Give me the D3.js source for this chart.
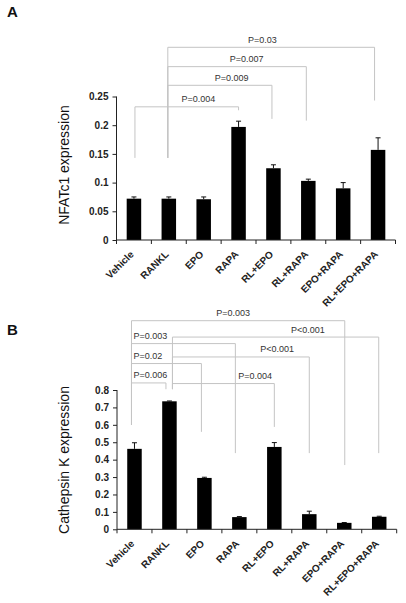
<!DOCTYPE html>
<html><head><meta charset="utf-8">
<script src="https://cdn.jsdelivr.net/npm/d3@7"></script>
<style>
html,body{margin:0;padding:0;background:#fff;}
svg{display:block;font-family:Arial,"Liberation Sans",sans-serif;}
</style></head>
<body><svg id="c" width="406" height="603"></svg>
<script>
const categories = ["Vehicle","RANKL","EPO","RAPA","RL+EPO","RL+RAPA","EPO+RAPA","RL+EPO+RAPA"];

// Panel A: NFATc1 expression
const nfatValues = [0.072,0.072,0.071,0.197,0.125,0.103,0.090,0.157];
const nfatErrors = [0.003,0.003,0.004,0.010,0.006,0.003,0.010,0.021];
const nfatTicks  = [0,0.05,0.1,0.15,0.2,0.25];
// brackets: from, to, level (data units), left leg end, right leg end, label, label position (category index)
const nfatFrom   = ["Vehicle","RANKL","RANKL","RANKL"];
const nfatTo     = ["RAPA","RL+EPO","RL+RAPA","RL+EPO+RAPA"];
const nfatLevel  = [0.232,0.2695,0.302,0.3357];
const nfatLeftEnd  = [0.143,0.143,0.143,0.143];
const nfatRightEnd = [0.226,0.211,0.208,0.243];
const nfatLabels = ["P=0.004","P=0.009","P=0.007","P=0.03"];
const nfatLabelAt = [1.85,2.8,3.23,3.68];

// Panel B: Cathepsin K expression
const ctskValues = [0.462,0.735,0.295,0.070,0.473,0.087,0.037,0.072];
const ctskErrors = [0.035,0.002,0.004,0.003,0.025,0.017,0.002,0.003];
const ctskTicks  = [0,0.1,0.2,0.3,0.4,0.5,0.6,0.7,0.8];
const ctskFrom   = ["Vehicle","RANKL","Vehicle","RANKL","Vehicle","RANKL","Vehicle"];
const ctskTo     = ["EPO+RAPA","RL+EPO+RAPA","RAPA","RL+RAPA","EPO","RL+EPO","RANKL"];
const ctskLevel  = [1.198,1.104,1.0665,0.9897,0.952,0.837,0.8406];
const ctskLeftEnd  = [0.60,0.805,0.60,0.805,0.60,0.805,0.60];
const ctskRightEnd = [0.369,0.4375,0.4375,0.4375,0.5596,0.588,0.8045];
const ctskLabels = ["P=0.003","P<0.001","P=0.003","P<0.001","P=0.02","P=0.004","P=0.006"];
const ctskLabelAt = [2.82,4.96,0,4.08,0,3.45,0];
const ctskAnchor = ["middle","middle","start","middle","start","middle","start"];

const svg = d3.select("#c");

function panel(o){
  const g = svg.append("g");
  const x = d3.scaleBand().domain(categories).range([o.x0,o.x1]).padding(0);
  const y = d3.scaleLinear().domain([0,o.max]).range([o.y0,o.y1]);
  const bw = 14.5;
  const cx = c => x(c)+x.bandwidth()/2;
  const idx = i => o.x0 + (i+0.5)*x.bandwidth();

  // panel letter
  g.append("text").attr("x",7).attr("y",o.letterY).attr("font-size",15).attr("font-weight","bold").attr("fill","#111").text(o.letter);

  // brackets
  const bg = g.append("g").attr("fill","none").attr("stroke","#c4c4c4").attr("stroke-width",1);
  o.from.forEach((f,i)=>{
    const xl = cx(f)+o.leftOff[f], xr = cx(o.to[i])+ (o.rightOff[o.to[i]]||0);
    const yl = y(o.level[i]);
    bg.append("path").attr("d",`M${xl},${y(o.leftEnd[i])}V${yl}H${xr}V${y(o.rightEnd[i])}`);
    const anchor = o.anchor ? o.anchor[i] : "middle";
    g.append("text").attr("x", anchor==="start" ? cx(categories[o.labelAt[i]])+o.leftOff["Vehicle"]+2 : idx(o.labelAt[i]))
      .attr("y", yl-4.5).attr("text-anchor",anchor).attr("font-size",9).attr("fill","#333").text(o.labels[i]);
  });

  // bars
  g.append("g").selectAll("rect").data(o.values).join("rect")
    .attr("x",(d,i)=>cx(categories[i])-bw/2).attr("width",bw)
    .attr("y",d=>y(d)).attr("height",d=>y(0)-y(d)).attr("fill","#000");
  // error bars (upper)
  const eg = g.append("g").attr("stroke","#111").attr("stroke-width",1);
  o.values.forEach((d,i)=>{
    const c = cx(categories[i]);
    eg.append("line").attr("x1",c).attr("x2",c).attr("y1",y(d)).attr("y2",y(d+o.errors[i]));
    eg.append("line").attr("x1",c-2.5).attr("x2",c+2.5).attr("y1",y(d+o.errors[i])).attr("y2",y(d+o.errors[i]));
  });

  // y axis
  const ya = d3.axisLeft(y).tickValues(o.ticks).tickSize(4).tickPadding(4).tickFormat(d=>d3.format("")(+d.toFixed(2)));
  const yg = g.append("g").attr("transform",`translate(${o.x0},0)`).call(ya);
  yg.select(".domain").attr("d",`M-0,${o.y0}V${o.y1}`).attr("stroke","#222");
  yg.selectAll(".tick line").attr("stroke","#222");
  yg.selectAll("text").attr("font-size",10).attr("font-weight","bold").attr("fill","#222").attr("font-family","Arial,'Liberation Sans',sans-serif");

  // x axis
  const xg = g.append("g");
  xg.append("line").attr("x1",o.x0).attr("x2",o.x1).attr("y1",o.y0).attr("y2",o.y0).attr("stroke","#222");
  d3.range(categories.length+1).forEach(i=>{
    const xx = o.x0 + i*x.bandwidth();
    xg.append("line").attr("x1",xx).attr("x2",xx).attr("y1",o.y0).attr("y2",o.y0+4).attr("stroke","#222");
  });
  xg.selectAll("text").data(categories).join("text")
    .attr("transform",c=>`translate(${cx(c)+0.5},${o.y0+15}) rotate(-45)`)
    .attr("text-anchor","end").attr("font-size",10).attr("font-weight","bold").attr("fill","#222").text(c=>c);

  // y title
  g.append("text").attr("transform",`translate(69,${o.titleY}) rotate(-90)`).attr("text-anchor","middle")
    .attr("font-size",14).attr("fill","#111").text(o.title);
}

panel({letter:"A",letterY:17,x0:116.5,x1:395.5,y0:240,y1:96.5,max:0.25,values:nfatValues,errors:nfatErrors,ticks:nfatTicks,
  from:nfatFrom,to:nfatTo,level:nfatLevel,leftEnd:nfatLeftEnd,rightEnd:nfatRightEnd,labels:nfatLabels,labelAt:nfatLabelAt,
  leftOff:{"Vehicle":1,"RANKL":-1},rightOff:{"RAPA":0,"RL+EPO":-1.5,"RL+RAPA":-2,"RL+EPO+RAPA":-3.5},title:"NFATc1 expression",titleY:165});

panel({letter:"B",letterY:335,x0:117,x1:396.7,y0:529.3,y1:390,max:0.8,values:ctskValues,errors:ctskErrors,ticks:ctskTicks,
  from:ctskFrom,to:ctskTo,level:ctskLevel,leftEnd:ctskLeftEnd,rightEnd:ctskRightEnd,labels:ctskLabels,labelAt:ctskLabelAt,anchor:ctskAnchor,
  leftOff:{"Vehicle":-3,"RANKL":3},rightOff:{"RANKL":-3.5,"EPO":-3,"RAPA":-4,"RL+EPO":0,"RL+RAPA":0,"EPO+RAPA":0.5,"RL+EPO+RAPA":-0.5},title:"Cathepsin K expression",titleY:460});
</script></body></html>
